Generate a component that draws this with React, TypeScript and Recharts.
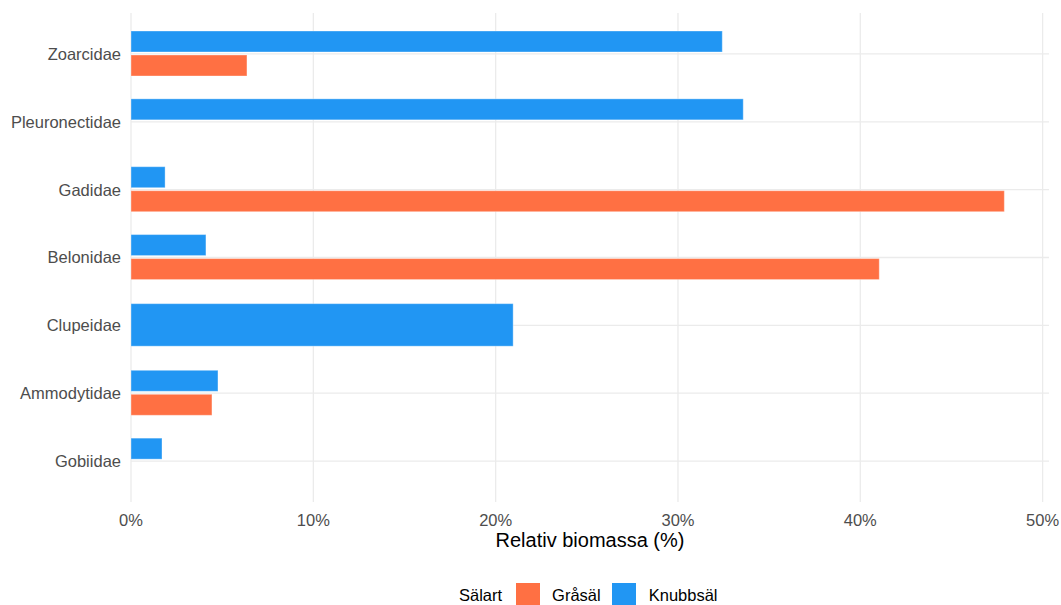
import { Bar, BarChart, CartesianGrid, XAxis, YAxis } from "recharts";

const familjer = [
  "Zoarcidae",
  "Pleuronectidae",
  "Gadidae",
  "Belonidae",
  "Clupeidae",
  "Ammodytidae",
  "Gobiidae",
];
const knubbsal = [32.43, 33.58, 1.87, 4.11, 20.96, 4.77, 1.7];
const grasal: (number | null)[] = [6.36, 0, 47.9, 41.04, null, 4.44, 0];
const xTicks = [0, 10, 20, 30, 40, 50];

const ORANGE = "#FF7043";
const BLUE = "#2196F3";
const GAP = 3;
const X_MAX = 50.35;
const Y_PAD = 7;

const dados = familjer.map((f, i) => ({
  familj: f,
  knubbsal: knubbsal[i],
  grasal: grasal[i],
}));

// ensam stapel (ingen gråsäl-rad) fyller hela bredden, som position_dodge2
const KnubbShape = (props: any) => {
  const { x, y, width, height, payload } = props;
  if (!width || width <= 0) return null;
  let yy = y;
  let h = height;
  if (payload.grasal === null || payload.grasal === undefined) {
    const center = y + height + GAP / 2;
    h = (2 * height + GAP) * 0.945;
    yy = center - h / 2;
  }
  return (
    <rect x={x} y={yy} width={width} height={h} fill={BLUE} stroke="#fff" strokeOpacity={0.35} strokeWidth={1} />
  );
};

const GraShape = (props: any) => {
  const { x, y, width, height } = props;
  if (!width || width <= 0) return null;
  return (
    <rect x={x} y={y} width={width} height={height} fill={ORANGE} stroke="#fff" strokeOpacity={0.35} strokeWidth={1} />
  );
};

const TitleLabel = (props: any) => {
  const { viewBox } = props;
  return (
    <text
      x={viewBox.x + viewBox.width / 2}
      y={viewBox.y + 45}
      textAnchor="middle"
      fontSize={20}
      fill="#000"
    >
      Relativ biomassa (%)
    </text>
  );
};

// gridlinjer bara vid kategorier och x-ticks (inga kantlinjer)
const hLinjer = ({ offset }: any) => {
  const band = (offset.height - 2 * Y_PAD) / familjer.length;
  return familjer.map((_, i) => offset.top + Y_PAD + band * (i + 0.5));
};
const vLinjer = ({ offset }: any) =>
  xTicks.map((t) => offset.left + (offset.width * t) / X_MAX);

const sw = { width: 24, height: 24, display: "inline-block" } as const;

export default function App() {
  return (
    <div style={{ position: "absolute", left: 0, top: 0, width: 1061, height: 605, background: "#fff", fontFamily: "'Liberation Sans', Arial, sans-serif" }}>
      <BarChart
        width={1061}
        height={605}
        data={dados}
        layout="vertical"
        margin={{ top: 13, right: 12, bottom: 43, left: 0 }}
        barSize={21}
        barGap={GAP}
      >
        <CartesianGrid
          stroke="#ebebeb"
          strokeWidth={1.3}
          horizontalCoordinatesGenerator={hLinjer}
          verticalCoordinatesGenerator={vLinjer}
        />
        <XAxis
          type="number"
          domain={[0, X_MAX]}
          ticks={xTicks}
          tickFormatter={(v: number) => `${v}%`}
          axisLine={false}
          tickLine={false}
          tickSize={0}
          tickMargin={12}
          height={60}
          tick={{ fontSize: 16.5, fill: "#4d4d4d" }}
          label={<TitleLabel />}
        />
        <YAxis
          type="category"
          dataKey="familj"
          width={131}
          axisLine={false}
          tickLine={false}
          tickSize={0}
          tickMargin={10}
          padding={{ top: Y_PAD, bottom: Y_PAD }}
          tick={{ fontSize: 16.5, fill: "#4d4d4d" }}
        />
        <Bar dataKey="knubbsal" fill={BLUE} shape={<KnubbShape />} isAnimationActive={false} />
        <Bar dataKey="grasal" fill={ORANGE} shape={<GraShape />} isAnimationActive={false} />
      </BarChart>
      <div
        style={{
          position: "absolute",
          top: 583,
          left: 459,
          height: 24,
          display: "flex",
          alignItems: "center",
          fontSize: 16.5,
          color: "#000",
          whiteSpace: "nowrap",
        }}
      >
        <span style={{ marginRight: 14 }}>Sälart</span>
        <span style={{ ...sw, background: ORANGE }} />
        <span style={{ marginLeft: 12, marginRight: 11 }}>Gråsäl</span>
        <span style={{ ...sw, background: BLUE }} />
        <span style={{ marginLeft: 13 }}>Knubbsäl</span>
      </div>
    </div>
  );
}
